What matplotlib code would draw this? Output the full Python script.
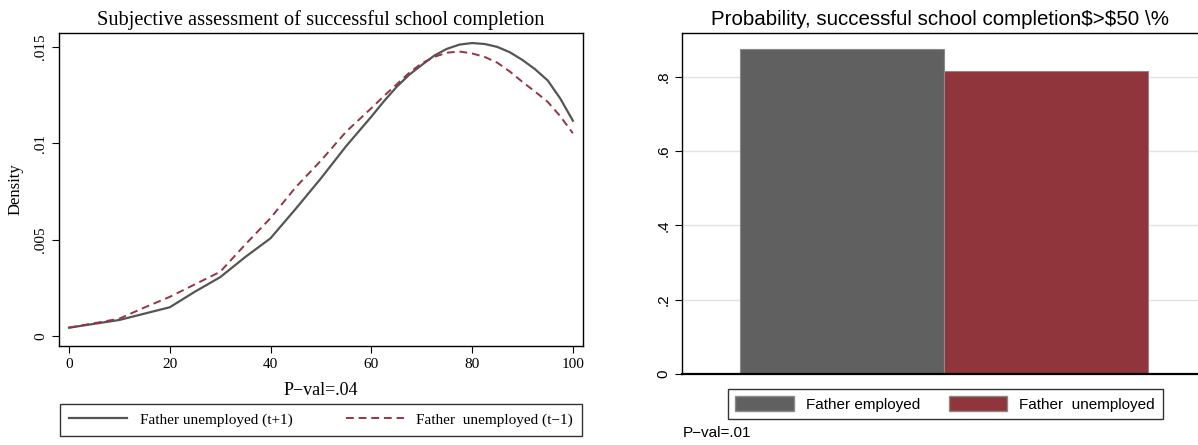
import matplotlib
matplotlib.use("Agg")
import matplotlib.pyplot as plt
from matplotlib.lines import Line2D
from matplotlib.patches import Patch

# Left panel: kernel density of subjective assessment
x_pct = [0, 5, 10, 15, 20, 25, 30, 35, 40, 45, 50, 55, 60, 62.5, 65, 67.5, 70, 72.5,
         75, 77.5, 80, 82.5, 85, 87.5, 90, 92.5, 95, 97.5, 100]
dens_t_plus1 = [0.00043, 0.00063, 0.00083, 0.00116, 0.00149, 0.00230, 0.00305, 0.00410,
                0.00507, 0.00660, 0.00818, 0.00985, 0.01138, 0.01218, 0.01292, 0.01355,
                0.01406, 0.01455, 0.01490, 0.01512, 0.01520, 0.01515, 0.01500, 0.01472,
                0.01432, 0.01384, 0.01326, 0.01232, 0.01117]
dens_t_minus1 = [0.00043, 0.00066, 0.00090, 0.00148, 0.00203, 0.00268, 0.00333, 0.00475,
                 0.00612, 0.00772, 0.00910, 0.01060, 0.01182, 0.01245, 0.01305, 0.01365,
                 0.01415, 0.01448, 0.01470, 0.01476, 0.01466, 0.01448, 0.01418, 0.01372,
                 0.01318, 0.01268, 0.01215, 0.01140, 0.01052]
line_labels = ["Father unemployed (t+1)", "Father  unemployed (t\u22121)"]

# Right panel: probability of successful completion > 50%
bar_labels = ["Father employed", "Father  unemployed"]
bar_values = [0.875, 0.816]

gray = "#606060"
cranberry = "#90353b"
serif = ["Liberation Serif", "DejaVu Serif"]
sans = ["Liberation Sans", "DejaVu Sans"]

fig = plt.figure(figsize=(11.98, 4.45), dpi=100)

# ---------------- left panel ----------------
ax1 = fig.add_axes([0.0492, 0.2225, 0.4374, 0.7033])
ax1.plot(x_pct, dens_t_plus1, color="#555555", lw=1.6, label=line_labels[0])
ax1.plot(x_pct, dens_t_minus1, color="#993344", lw=1.4, ls=(0, (4, 2.5)), label=line_labels[1])
ax1.set_xlim(-2, 102)
ax1.set_ylim(-0.00052, 0.01572)
ax1.set_xticks([0, 20, 40, 60, 80, 100])
ax1.set_yticks([0, 0.005, 0.01, 0.015])
ax1.set_yticklabels(["0", ".005", ".01", ".015"], rotation=90, va="center")
for lab in ax1.get_xticklabels() + ax1.get_yticklabels():
    lab.set_family(serif)
    lab.set_fontsize(11)
ax1.tick_params(direction="out", length=5, width=0.8, colors="black")
for sp in ax1.spines.values():
    sp.set_linewidth(1.0)
ax1.set_title("Subjective assessment of successful school completion",
              family=serif, fontsize=14.7, pad=6)
ax1.set_ylabel("Density", family=serif, fontsize=12, labelpad=8)
ax1.set_xlabel("P\u2212val=.04", family=serif, fontsize=13, labelpad=8)

leg_handles = [Line2D([], [], color="#555555", lw=1.6),
               Line2D([], [], color="#993344", lw=1.4, ls=(0, (4, 2.5)))]
leg1 = fig.legend(leg_handles, line_labels, loc="center", ncol=2,
                  bbox_to_anchor=(0.268, 0.056), frameon=True, fancybox=False,
                  edgecolor="black", prop={"family": serif, "size": 11},
                  handlelength=3.8, columnspacing=3.5, borderpad=0.6)
leg1.get_frame().set_linewidth(1.0)

# ---------------- right panel ----------------
ax2 = fig.add_axes([0.5693, 0.1596, 0.4307, 0.7663])
xs = range(len(bar_values))
ax2.bar(xs, bar_values, width=1.0, color=[gray, cranberry],
        edgecolor="#8a8a8a", linewidth=0.8, zorder=2)
ax2.set_xlim(-0.784, 1.745)
ax2.set_ylim(0, 0.918)
ax2.set_yticks([0, 0.2, 0.4, 0.6, 0.8])
ax2.set_yticklabels(["0", ".2", ".4", ".6", ".8"], rotation=90, va="center")
for lab in ax2.get_yticklabels():
    lab.set_family(sans)
    lab.set_fontsize(11)
ax2.set_xticks([])
ax2.tick_params(axis="y", direction="out", length=5, width=0.8)
ax2.yaxis.grid(True, color="#e2e2e2", lw=1.0, zorder=0)
ax2.set_axisbelow(True)
ax2.spines["right"].set_visible(False)
ax2.spines["top"].set_linewidth(1.0)
ax2.spines["left"].set_linewidth(1.0)
ax2.spines["bottom"].set_linewidth(1.6)
ax2.set_title("Probability, successful school completion\\$>\\$50 \\%",
              family=sans, fontsize=14.8, pad=6)

patch_handles = [Patch(facecolor=gray, edgecolor="#8a8a8a"),
                 Patch(facecolor=cranberry, edgecolor="#8a8a8a")]
leg2 = fig.legend(patch_handles, bar_labels, loc="center", ncol=2,
                  bbox_to_anchor=(0.789, 0.092), frameon=True, fancybox=False,
                  edgecolor="black", prop={"family": sans, "size": 11},
                  handlelength=3.8, handleheight=1.1, columnspacing=1.9, borderpad=0.5)
leg2.get_frame().set_linewidth(1.0)

fig.text(0.570, 0.027, "P\u2212val=.01", family=sans, fontsize=11, va="center", ha="left")

fig.savefig("out.png", dpi=100)
